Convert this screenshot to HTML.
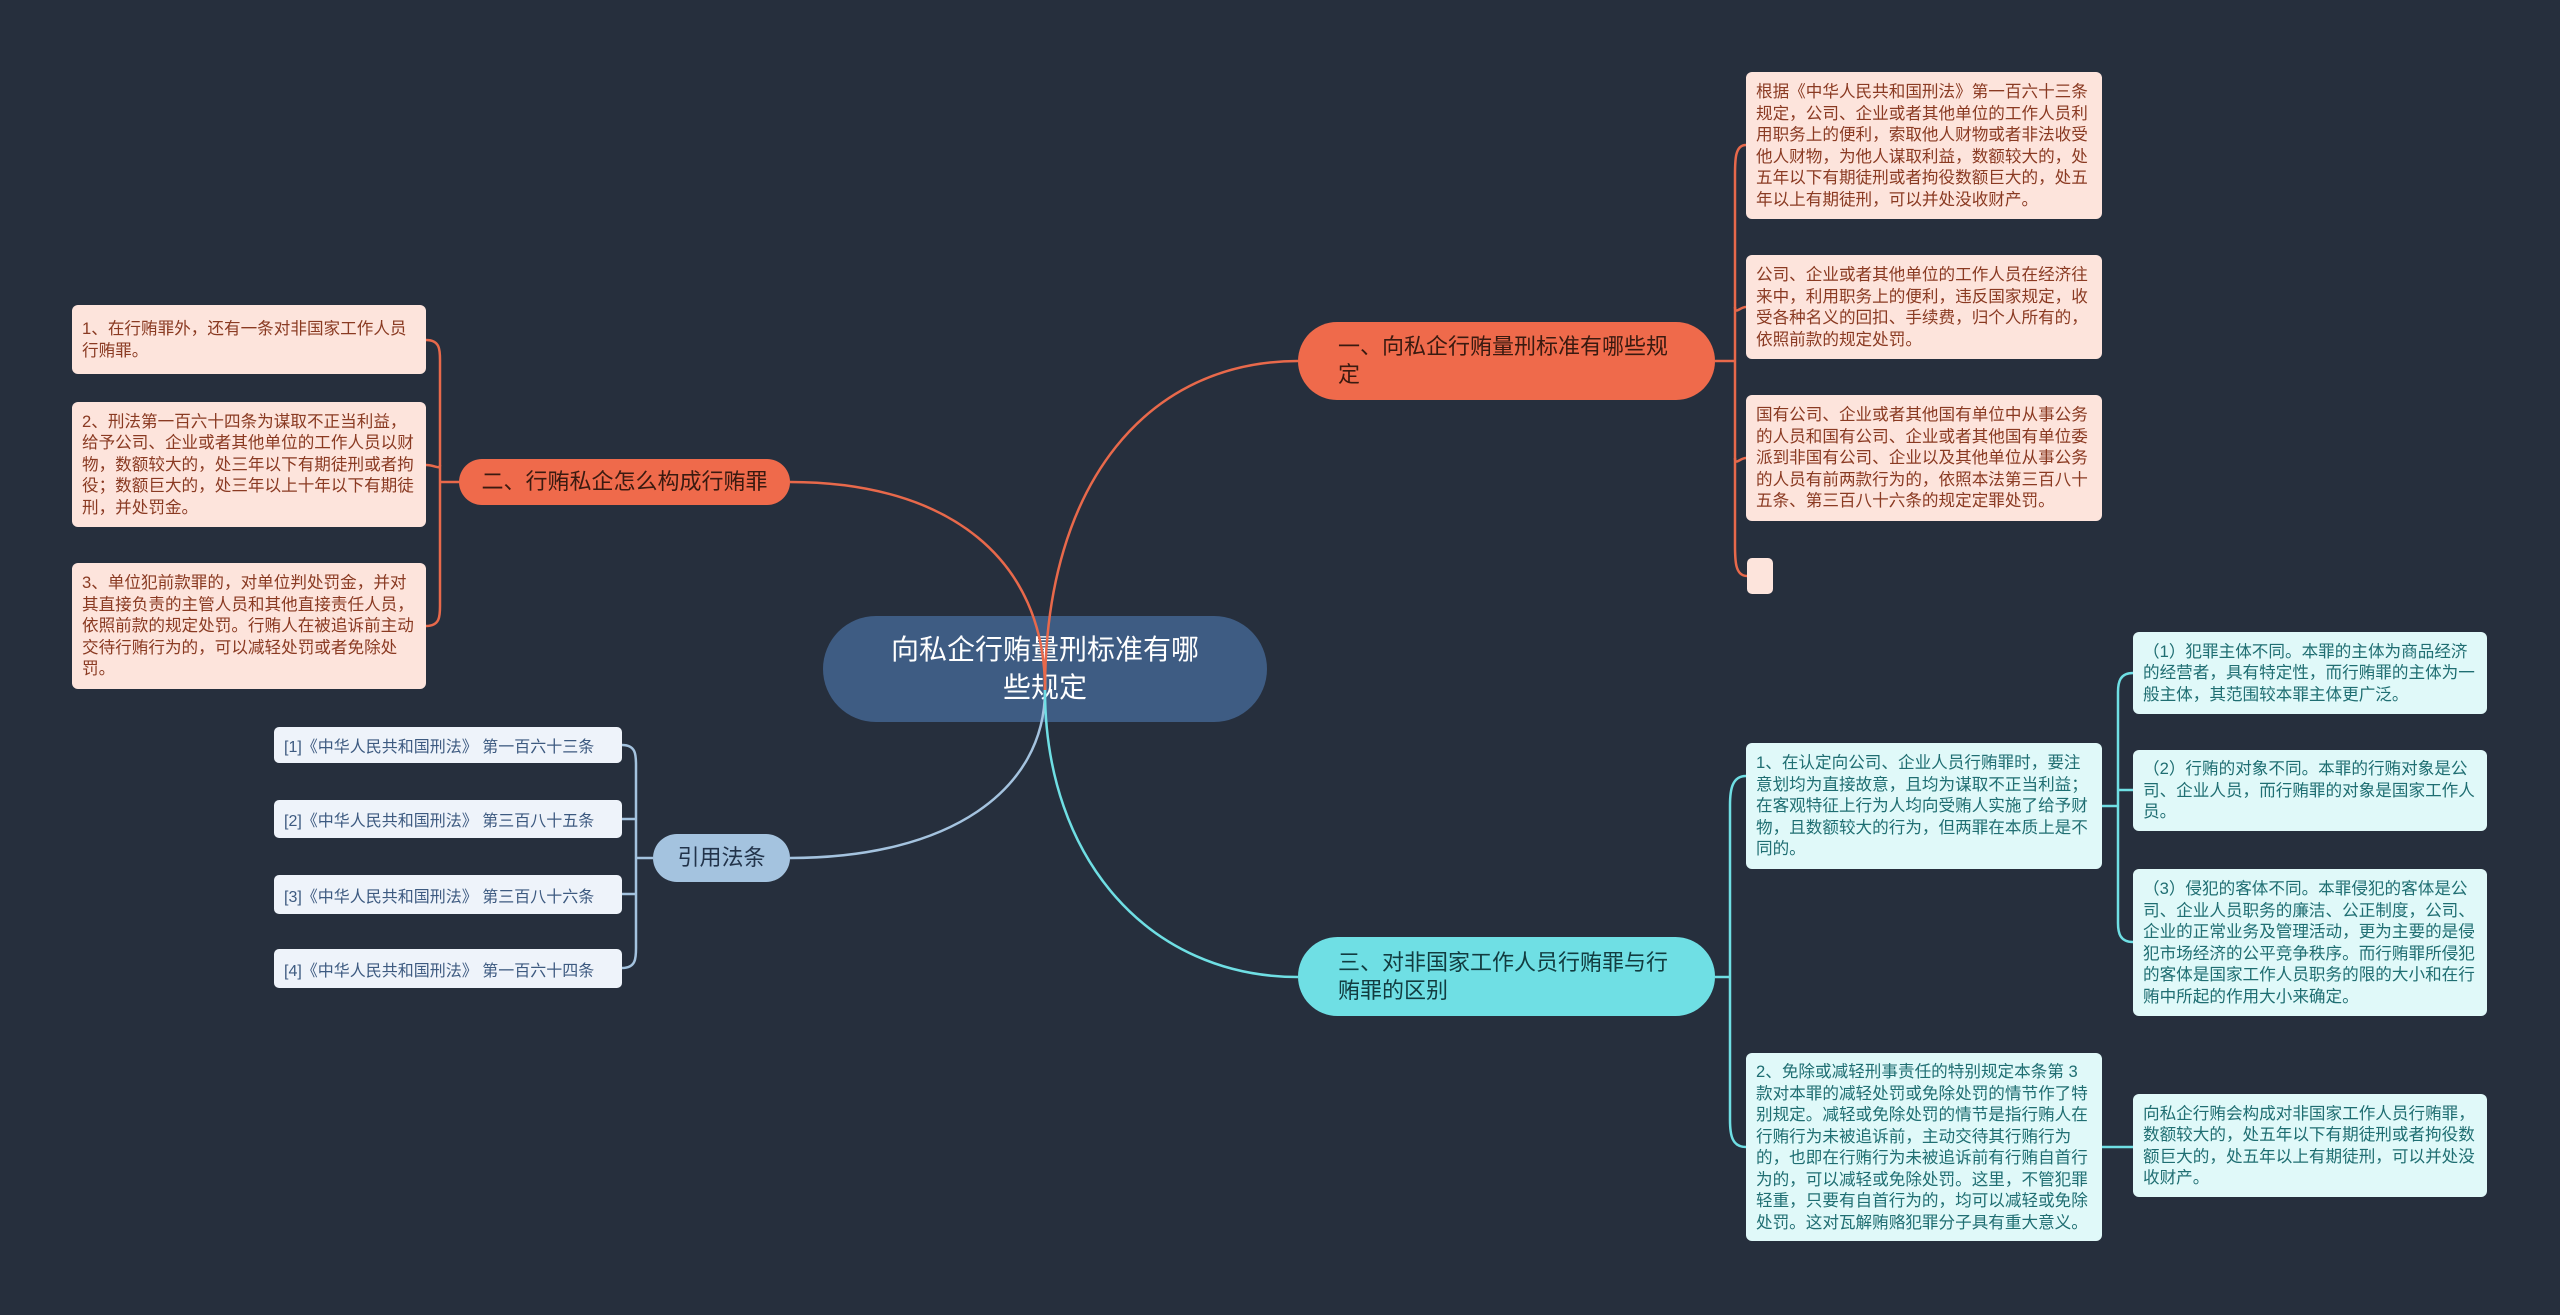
<!DOCTYPE html>
<html><head><meta charset="utf-8"><style>
body{margin:0;width:2560px;height:1315px;background:#262f3d;position:relative;overflow:hidden;font-family:"Liberation Sans","Noto Sans CJK SC",sans-serif}
.n{position:absolute;box-sizing:border-box}
.leaf{border-radius:6px;font-size:16.6px;line-height:21.5px;padding:4px 10px;display:flex;align-items:center}
.o{background:#fde4dc;color:#8a3a22}
.c{background:#e0f9f9;color:#1f6e72}
.b{background:#eef3fa;color:#3d5a80;font-size:16px;display:flex;align-items:center;padding:0 10px;border-radius:5px}
.br{border-radius:40px;display:flex;align-items:center;font-size:22px;line-height:28px}
svg{position:absolute;left:0;top:0}
</style></head><body>
<div class="n" style="left:823px;top:616px;width:444px;height:106px;background:#3e5c83;border-radius:53px;color:#fff;font-size:28px;line-height:38px;text-align:center;display:flex;align-items:center;justify-content:center;padding:0 60px">向私企行贿量刑标准有哪些规定</div>

<div class="n br" style="left:1298px;top:322px;width:417px;height:78px;background:#ef6a4b;color:#3a1a10;padding:0 40px">一、向私企行贿量刑标准有哪些规定</div>
<div class="n br" style="left:459px;top:459px;width:331px;height:46px;background:#ef6a4b;color:#3a1a10;justify-content:center">二、行贿私企怎么构成行贿罪</div>
<div class="n br" style="left:653px;top:834px;width:137px;height:48px;background:#a4c3df;color:#22334a;justify-content:center">引用法条</div>
<div class="n br" style="left:1298px;top:937px;width:417px;height:79px;background:#6fdfe4;color:#123c40;padding:0 40px">三、对非国家工作人员行贿罪与行贿罪的区别</div>

<div class="n leaf o" style="left:1746px;top:72px;width:356px;height:147px">根据《中华人民共和国刑法》第一百六十三条规定，公司、企业或者其他单位的工作人员利用职务上的便利，索取他人财物或者非法收受他人财物，为他人谋取利益，数额较大的，处五年以下有期徒刑或者拘役数额巨大的，处五年以上有期徒刑，可以并处没收财产。</div>
<div class="n leaf o" style="left:1746px;top:255px;width:356px;height:104px">公司、企业或者其他单位的工作人员在经济往来中，利用职务上的便利，违反国家规定，收受各种名义的回扣、手续费，归个人所有的，依照前款的规定处罚。</div>
<div class="n leaf o" style="left:1746px;top:395px;width:356px;height:126px">国有公司、企业或者其他国有单位中从事公务的人员和国有公司、企业或者其他国有单位委派到非国有公司、企业以及其他单位从事公务的人员有前两款行为的，依照本法第三百八十五条、第三百八十六条的规定定罪处罚。</div>
<div class="n o" style="left:1747px;top:558px;width:26px;height:36px;border-radius:5px"></div>

<div class="n leaf o" style="left:72px;top:305px;width:354px;height:69px">1、在行贿罪外，还有一条对非国家工作人员行贿罪。</div>
<div class="n leaf o" style="left:72px;top:402px;width:354px;height:125px">2、刑法第一百六十四条为谋取不正当利益，给予公司、企业或者其他单位的工作人员以财物，数额较大的，处三年以下有期徒刑或者拘役；数额巨大的，处三年以上十年以下有期徒刑，并处罚金。</div>
<div class="n leaf o" style="left:72px;top:563px;width:354px;height:126px">3、单位犯前款罪的，对单位判处罚金，并对其直接负责的主管人员和其他直接责任人员，依照前款的规定处罚。行贿人在被追诉前主动交待行贿行为的，可以减轻处罚或者免除处罚。</div>

<div class="n b" style="left:274px;top:727px;width:348px;height:36px">[1]《中华人民共和国刑法》 第一百六十三条</div>
<div class="n b" style="left:274px;top:800px;width:348px;height:38px">[2]《中华人民共和国刑法》 第三百八十五条</div>
<div class="n b" style="left:274px;top:875px;width:348px;height:39px">[3]《中华人民共和国刑法》 第三百八十六条</div>
<div class="n b" style="left:274px;top:949px;width:348px;height:39px">[4]《中华人民共和国刑法》 第一百六十四条</div>

<div class="n leaf c" style="left:1746px;top:743px;width:356px;height:126px">1、在认定向公司、企业人员行贿罪时，要注意划均为直接故意，且均为谋取不正当利益；在客观特征上行为人均向受贿人实施了给予财物，且数额较大的行为，但两罪在本质上是不同的。</div>
<div class="n leaf c" style="left:1746px;top:1053px;width:356px;height:188px">2、免除或减轻刑事责任的特别规定本条第 3 款对本罪的减轻处罚或免除处罚的情节作了特别规定。减轻或免除处罚的情节是指行贿人在行贿行为未被追诉前，主动交待其行贿行为的，也即在行贿行为未被追诉前有行贿自首行为的，可以减轻或免除处罚。这里，不管犯罪轻重，只要有自首行为的，均可以减轻或免除处罚。这对瓦解贿赂犯罪分子具有重大意义。</div>
<div class="n leaf c" style="left:2133px;top:632px;width:354px;height:82px">（1）犯罪主体不同。本罪的主体为商品经济的经营者，具有特定性，而行贿罪的主体为一般主体，其范围较本罪主体更广泛。</div>
<div class="n leaf c" style="left:2133px;top:750px;width:354px;height:81px">（2）行贿的对象不同。本罪的行贿对象是公司、企业人员，而行贿罪的对象是国家工作人员。</div>
<div class="n leaf c" style="left:2133px;top:869px;width:354px;height:147px">（3）侵犯的客体不同。本罪侵犯的客体是公司、企业人员职务的廉洁、公正制度，公司、企业的正常业务及管理活动，更为主要的是侵犯市场经济的公平竞争秩序。而行贿罪所侵犯的客体是国家工作人员职务的限的大小和在行贿中所起的作用大小来确定。</div>
<div class="n leaf c" style="left:2133px;top:1094px;width:354px;height:103px">向私企行贿会构成对非国家工作人员行贿罪，数额较大的，处五年以下有期徒刑或者拘役数额巨大的，处五年以上有期徒刑，可以并处没收财产。</div>

<svg width="2560" height="1315" fill="none" stroke-width="2.5">
<g stroke="#e8694b">
<path d="M1045 690 C1045 480 1150 361 1298 361"/>
<path d="M1045 690 C1045 560 950 482 790 482"/>
<path d="M1715 361 H1735"/>
<path d="M1746 145 C1735 145 1735 160 1735 175 V545 C1735 560 1735 576 1747 576"/>
<path d="M1735 307 C1735 315 1740 307 1746 307"/>
<path d="M1735 458 C1735 466 1740 458 1746 458"/>
<path d="M459 482 H440"/>
<path d="M426 340 C440 340 440 350 440 360 V606 C440 616 440 626 426 626"/>
<path d="M440 465 C440 470 435 465 426 465"/>
</g>
<g stroke="#a4c3df">
<path d="M1045 690 C1045 790 950 858 790 858"/>
<path d="M653 858 H636"/>
<path d="M622 745 C636 745 636 755 636 765 V948 C636 958 636 968 622 968"/>
<path d="M636 819 C636 819 630 819 622 819"/>
<path d="M636 894 C636 894 630 894 622 894"/>
</g>
<g stroke="#6fdfe4">
<path d="M1045 690 C1045 860 1150 977 1298 977"/>
<path d="M1715 977 H1730"/>
<path d="M1746 776 C1732 776 1730 790 1730 805 V1120 C1730 1135 1732 1147 1746 1147"/>
<path d="M2102 806 H2118"/>
<path d="M2133 673 C2120 673 2118 682 2118 692 V923 C2118 933 2120 942 2133 942"/>
<path d="M2118 790 C2118 790 2125 790 2133 790"/>
<path d="M2102 1147 H2133"/>
</g>
</svg>
</body></html>
